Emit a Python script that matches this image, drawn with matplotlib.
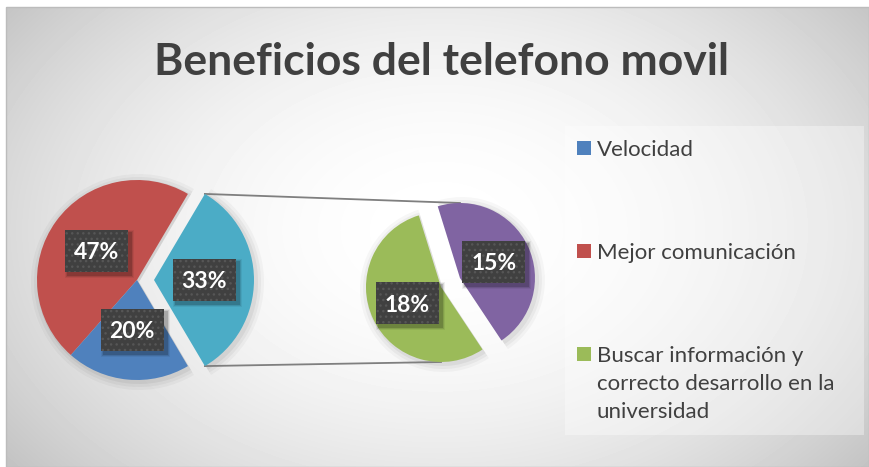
import numpy as np
import matplotlib.pyplot as plt
from matplotlib import font_manager
from matplotlib.patches import Rectangle, Wedge

W, H = 869, 467  # figure size in pixels, axes uses pixel coordinates (y up)

# Legend entries (the purple slice has no visible legend entry in the source)
categorias = ["Velocidad", "Mejor comunicación",
              "Buscar información y\ncorrecto desarrollo en la\nuniversidad"]
colores_leyenda = ["#4F81BD", "#C0504D", "#9BBB59"]

# Main pie, counter-clockwise starting with the "other" slice
principal = [33, 47, 20]
colores_principal = ["#4BACC6", "#C0504D", "#4F81BD"]

# Secondary pie, breakdown of the 33% slice
secundario = [15, 18]
colores_secundario = ["#8064A2", "#9BBB59"]

plt.rcParams['font.family'] = ['Lato', 'DejaVu Sans']

# Calibri-like narrow bold for the title if available
try:
    font_manager.findfont('Liberation Sans Narrow', fallback_to_default=False)
    fam_titulo, tam_titulo = 'Liberation Sans Narrow', 37
except ValueError:
    fam_titulo, tam_titulo = 'Lato', 32

fig = plt.figure(figsize=(W / 100, H / 100), dpi=100)
ax = fig.add_axes([0, 0, 1, 1])

# Radial gray background of the chart area
yy, xx = np.mgrid[7:467, 6:869]
d2 = ((xx - 440) / 480.0) ** 2 + ((yy - 230) / 330.0) ** 2
fondo = np.clip(1 - 0.18 * d2, 0, 1)
ax.imshow(fondo, cmap='gray', vmin=0, vmax=1, extent=(6, 869, 0, H - 7),
          origin='upper', aspect='auto', zorder=0)
ax.add_patch(Rectangle((6, 0), W - 6, H - 7, facecolor='none',
                       edgecolor='#bcbcbc', lw=1, zorder=1))

# Pies
w1, _ = ax.pie(principal, colors=colores_principal, startangle=-59.4,
               radius=100, center=(137, H - 280), explode=[17, 0, 0],
               wedgeprops=dict(linewidth=0, zorder=3))
w2, _ = ax.pie(secundario, colors=colores_secundario, startangle=-56.4,
               radius=75, center=(441, H - 287), explode=[21, 0],
               wedgeprops=dict(linewidth=0, zorder=3))

# soft shadow under the wedges
for w in list(w1) + list(w2):
    for k, a in [(8, 0.03), (5, 0.04), (2, 0.05)]:
        ax.add_patch(Wedge((w.center[0] + 2, w.center[1] - 2), w.r + k,
                           w.theta1, w.theta2, facecolor='black', alpha=a,
                           lw=0, zorder=2))


def etiqueta(w, valor):
    t = np.deg2rad((w.theta1 + w.theta2) / 2)
    cx = w.center[0] + 0.5 * w.r * np.cos(t)
    cy = w.center[1] + 0.5 * w.r * np.sin(t)
    bw, bh = 63, 42
    # soft shadow
    for k, a in [(6, 0.06), (4, 0.10), (2, 0.16)]:
        ax.add_patch(Rectangle((cx - bw / 2 + 3 - k / 2, cy - bh / 2 - 3 - k / 2),
                               bw + k, bh + k, facecolor='black', alpha=a,
                               lw=0, zorder=4))
    ax.add_patch(Rectangle((cx - bw / 2, cy - bh / 2), bw, bh,
                           facecolor='#404040', edgecolor='#565656',
                           hatch='...', lw=0, zorder=5))
    ax.text(cx, cy, f"{valor}%", ha='center', va='center_baseline',
            fontsize=16.5, fontweight='bold', color='white', zorder=6)


for w, v in zip(w1, principal):
    etiqueta(w, v)
for w, v in zip(w2, secundario):
    etiqueta(w, v)

# Connector lines between the pies
otro = w1[0]
sup = otro.center + otro.r * np.array([np.cos(np.deg2rad(otro.theta2)),
                                       np.sin(np.deg2rad(otro.theta2))])
inf = otro.center + otro.r * np.array([np.cos(np.deg2rad(otro.theta1)),
                                       np.sin(np.deg2rad(otro.theta1))])
top2 = (w2[0].center[0], w2[0].center[1] + w2[0].r)
bot2 = (w2[1].center[0], w2[1].center[1] - w2[1].r)
ax.plot([sup[0], top2[0]], [sup[1], top2[1]], color='#7f7f7f', lw=1.3, zorder=2)
ax.plot([inf[0], bot2[0]], [inf[1], bot2[1]], color='#7f7f7f', lw=1.3, zorder=2)

# Title
ax.text(442, H - 75, "Beneficios del telefono movil", ha='center',
        va='baseline', fontsize=tam_titulo, fontweight='bold',
        family=[fam_titulo, 'Lato'], color='#404040', zorder=6)

# Legend box
ax.add_patch(Rectangle((565, H - 435), 299, 309, facecolor='white',
                       alpha=0.35, lw=0, zorder=1))
ley_y = [148, 251, 354]
for nombre, col, y in zip(categorias, colores_leyenda, ley_y):
    ax.add_patch(Rectangle((577, H - y - 7), 14, 14, facecolor=col, lw=0, zorder=6))
    ax.text(597, H - y + 8, nombre, ha='left', va='top', fontsize=16,
            color='#404040', linespacing=1.5, zorder=6)

ax.set_xlim(0, W)
ax.set_ylim(0, H)
ax.set_aspect('auto')
ax.axis('off')

fig.savefig("out.png", dpi=100, facecolor='white')
